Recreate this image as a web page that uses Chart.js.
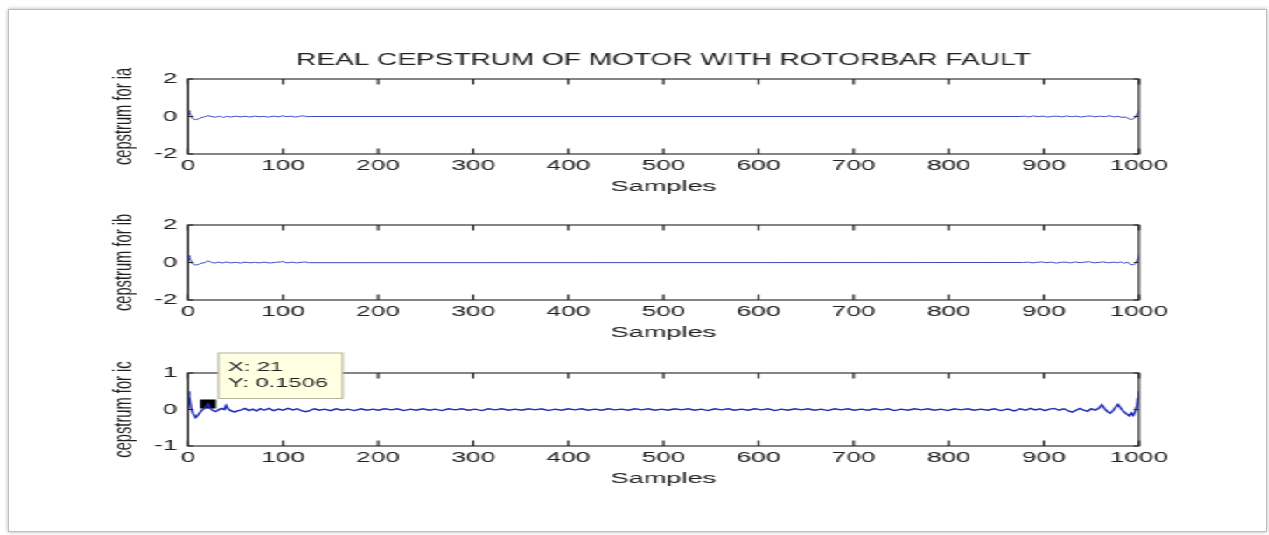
<!DOCTYPE html>
<html><head><meta charset="utf-8">
<script src="https://cdn.jsdelivr.net/npm/chart.js@4.4.0/dist/chart.umd.min.js"></script>
<style>
html,body{margin:0;padding:0;background:#fff;width:1269px;height:535px;overflow:hidden;}
#frame{position:absolute;left:8px;top:9px;width:1257px;height:521px;border:1px solid #bdbdbd;box-shadow:0 0 4px rgba(0,0,0,0.3);background:#fff;}
#stage{position:absolute;left:0;top:0;width:725px;height:535px;transform:scaleX(1.75);transform-origin:0 0;}
canvas{position:absolute;left:0;}
</style></head>
<body>
<div id="frame"></div>
<div id="stage">
<canvas id="c1" width="725" height="196" style="top:0px;width:725px;height:196px"></canvas>
<canvas id="c2" width="725" height="142" style="top:200px;width:725px;height:142px"></canvas>
<canvas id="c3" width="725" height="143" style="top:345px;width:725px;height:143px"></canvas>
</div>
<script>
// ---- data ----
const chartTitle = "REAL CEPSTRUM OF MOTOR WITH ROTORBAR FAULT";
const xAxisLabel = "Samples";
const yAxisLabels = ["cepstrum for ia", "cepstrum for ib", "cepstrum for ic"];
const xTicks = [0,100,200,300,400,500,600,700,800,900,1000];
const yTicksAB = [-2, 0, 2];
const yTicksC = [-1, 0, 1];

const iaPoints = [[0,0.32],[1,0.25],[3,0.05],[5,-0.12],[8,-0.17],[11,-0.12],[14,-0.06],[17,-0.02],[21,0.05],[25,-0.01],[29,-0.04],[33,0.02],[37,-0.05],[41,0.01],[45,-0.03],[50,0.02],[55,-0.02],[60,0.01],[65,-0.03],[70,0.02],[75,-0.01],[80,0.0],[85,-0.03],[90,0.02],[95,-0.02],[100,0.04],[104,-0.01],[108,0.02],[113,-0.03],[118,0.02],[122,0.03],[126,-0.01],[130,0],
[875,0],[880,0.02],[884,-0.02],[889,0.03],[894,-0.01],[899,0.02],[904,-0.03],[909,0.01],[914,0.02],[919,-0.02],[924,0.03],[929,-0.01],[934,0.02],[939,-0.03],[944,0.01],[949,0.03],[954,-0.02],[959,0.02],[964,-0.01],[969,0.04],[974,-0.02],[978,0.01],[982,-0.05],[986,-0.02],[989,-0.12],[992,-0.16],[995,-0.1],[997,0.02],[999,0.2],[1000,0.32]];

const ibPoints = [[0,0.38],[1,0.3],[3,0.08],[5,-0.08],[8,-0.14],[11,-0.1],[14,-0.04],[18,0.0],[21,0.1],[24,0.01],[28,-0.03],[32,0.02],[36,-0.03],[40,0.03],[45,-0.02],[50,0.01],[55,-0.03],[60,0.02],[65,-0.02],[70,0.01],[75,-0.02],[80,0.02],[86,-0.03],[92,0.01],[97,0.03],[100,0.05],[104,-0.02],[109,0.02],[114,-0.02],[119,0.01],[123,0.03],[127,-0.01],
[878,0.0],[883,0.02],[888,-0.02],[893,0.01],[898,0.03],[903,-0.01],[908,0.02],[913,-0.03],[918,0.01],[923,0.02],[928,-0.02],[933,0.03],[938,-0.01],[943,0.02],[948,0.04],[953,-0.02],[958,0.01],[963,0.03],[968,-0.02],[973,0.02],[977,-0.01],[981,0.03],[985,-0.04],[988,0.02],[991,-0.1],[994,-0.13],[996,-0.06],[998,0.08],[999,0.22],[1000,0.38]];

const icPoints = [[0,0.5],[1,0.36],[3,0.06],[5,-0.1],[8,-0.22],[11,-0.13],[14,-0.03],[17,0.03],[19,0.08],[21,0.1506],[23,0.04],[26,-0.03],[29,-0.06],[32,-0.01],[35,0.03],[38,0.0],[40,0.11],[42,0.02],[45,-0.03],[49,-0.07],[52,-0.04],[56,-0.01],[60,0.03],[64,-0.03],[68,0.01],[72,-0.04],[76,0.02],[80,-0.02],[85,0.03],[90,-0.03],[95,0.01],[100,-0.02],[105,0.03],[110,-0.01],[115,0.02],[120,-0.04],[124,-0.06],[128,-0.03],[133,0.02],[138,-0.02],[144,0.01],[150,-0.03],[156,0.02],[162,-0.02],[168,0.01],[175,-0.03],[182,0.02],[188,-0.02],[195,0.01],[200,-0.02],[207,0.02],[214,-0.01],[220,0.02],[227,-0.03],[234,0.01],[240,-0.02],[247,0.02],[254,-0.02],[260,0.01],[267,-0.03],[274,0.02],[281,-0.01],[288,0.02],[295,-0.02],[302,0.01],[309,-0.03],[316,0.02],[323,-0.01],[330,0.02],[337,-0.02],[344,0.01],[351,-0.02],[358,0.02],[365,-0.01],[372,0.02],[379,-0.03],[386,0.01],[393,-0.02],[400,0.02],[407,-0.01],[414,0.02],[421,-0.02],[428,0.01],[435,-0.02],[442,0.02],[449,-0.01],[456,0.01],[463,-0.02],[470,0.02],[477,-0.01],[484,0.02],[491,-0.02],[498,0.01],[505,-0.02],[512,0.02],[519,-0.01],[526,0.02],[533,-0.02],[540,0.01],[547,-0.03],[554,0.02],[561,-0.01],[568,0.02],[575,-0.02],[582,0.01],[589,-0.02],[596,0.02],[603,-0.01],[610,0.02],[617,-0.03],[624,0.01],[631,-0.02],[638,0.02],[645,-0.01],[652,0.02],[659,-0.02],[666,0.01],[673,-0.03],[680,0.02],[687,-0.01],[694,0.02],[701,-0.02],[708,0.01],[715,-0.02],[722,0.02],[729,-0.01],[736,0.02],[743,-0.03],[750,0.01],[757,-0.02],[764,0.02],[771,-0.01],[778,0.02],[785,-0.02],[792,0.01],[799,-0.03],[806,0.02],[813,-0.01],[820,0.02],[827,-0.02],[834,0.01],[841,-0.02],[848,0.02],[855,-0.03],[862,0.01],[869,-0.04],[875,0.02],[881,-0.02],[886,0.03],[891,-0.01],[896,0.02],[901,-0.03],[906,0.01],[911,0.03],[916,-0.02],[921,0.02],[926,-0.04],[930,-0.07],[934,-0.02],[938,0.03],[942,-0.02],[946,-0.05],[950,0.02],[954,-0.02],[958,0.04],[961,0.13],[964,0.02],[967,-0.06],[970,-0.1],[973,-0.02],[976,0.08],[978,0.14],[981,0.03],[984,-0.06],[987,-0.12],[990,-0.18],[992,-0.1],[994,-0.16],[996,-0.05],[998,0.12],[999,0.3],[1000,0.5]];

const tipX = 21;
const tipY = 0.1506;

// ---- rendering ----
const FONT = 'Liberation Sans, Arial, Helvetica, sans-serif';
const TXT = '#202020';
Chart.defaults.font.family = FONT;
Chart.defaults.color = TXT;

const boxTicks = {
  id: 'boxTicks',
  afterDatasetsDraw(chart) {
    const {ctx, chartArea: a, scales: {x, y}} = chart;
    ctx.save();
    ctx.strokeStyle = '#222';
    ctx.lineWidth = 1.2;
    ctx.beginPath();
    x.ticks.forEach(t => {
      const p = x.getPixelForValue(t.value);
      ctx.moveTo(p, a.bottom); ctx.lineTo(p, a.bottom - 5.5);
      ctx.moveTo(p, a.top); ctx.lineTo(p, a.top + 5.5);
    });
    y.ticks.forEach(t => {
      const p = y.getPixelForValue(t.value);
      ctx.moveTo(a.left, p); ctx.lineTo(a.left + 3, p);
      ctx.moveTo(a.right, p); ctx.lineTo(a.right - 3, p);
    });
    ctx.stroke();
    ctx.lineWidth = 1.1;
    ctx.strokeRect(a.left, a.top, a.right - a.left, a.bottom - a.top);
    ctx.restore();
  }
};

const dataTip = {
  id: 'dataTip',
  afterDatasetsDraw(chart) {
    const meta = chart.getDatasetMeta(1);
    if (!meta || !meta.data.length) return;
    const el = meta.data[0];
    const px = el.x, py = el.y;
    const ctx = chart.ctx;
    ctx.save();
    ctx.fillStyle = '#ffffe1';
    ctx.strokeStyle = '#b4b49c';
    ctx.lineWidth = 1;
    ctx.fillRect(px + 6, py - 51, 71, 45.5);
    ctx.strokeRect(px + 6, py - 51, 71, 45.5);
    ctx.fillStyle = TXT;
    ctx.font = '13.5px ' + FONT;
    ctx.textBaseline = 'middle';
    ctx.textAlign = 'left';
    ctx.fillText('X: ' + tipX, px + 11.5, py - 37);
    ctx.fillText('Y: ' + tipY, px + 11.5, py - 21);
    ctx.restore();
  }
};

function makeChart(id, points, color, lw, yTicks, yLabel, padTop, withTitle, extra) {
  const datasets = [{
    data: points.map(p => ({x: p[0], y: p[1]})),
    borderColor: color,
    borderWidth: lw,
    pointRadius: 0,
    tension: 0,
    fill: false
  }];
  const plugins = [boxTicks];
  if (extra) {
    datasets.push({
      data: [{x: tipX, y: tipY}],
      showLine: false,
      pointStyle: 'rect',
      pointRadius: 6.5,
      backgroundColor: '#000',
      borderColor: '#000',
      borderWidth: 0
    });
    plugins.push(dataTip);
  }
  return new Chart(document.getElementById(id), {
    type: 'line',
    data: {datasets},
    plugins,
    options: {
      responsive: false,
      animation: false,
      devicePixelRatio: 1,
      layout: {padding: {top: padTop, right: 74.14, bottom: 0, left: 0}},
      plugins: {
        legend: {display: false},
        tooltip: {enabled: false},
        title: {
          display: withTitle,
          text: chartTitle,
          fullSize: false,
          color: TXT,
          font: {size: 16, weight: 'normal', family: FONT, lineHeight: 1.2},
          padding: {top: 51.4, bottom: 8.4}
        }
      },
      scales: {
        x: {
          type: 'linear',
          min: xTicks[0], max: xTicks[xTicks.length - 1],
          grid: {display: false, drawTicks: false},
          border: {display: false},
          afterBuildTicks: s => { s.ticks = xTicks.map(v => ({value: v})); },
          afterFit: s => { s.height = 42; },
          ticks: {
            padding: 3, maxRotation: 0, autoSkip: false, color: TXT,
            font: {size: 15, family: FONT, lineHeight: 1.2},
            callback: v => String(v)
          },
          title: {
            display: true, text: xAxisLabel, color: TXT,
            font: {size: 15.5, family: FONT, lineHeight: 1.2},
            padding: 0
          }
        },
        y: {
          type: 'linear',
          min: yTicks[0], max: yTicks[yTicks.length - 1],
          grid: {display: false, drawTicks: false},
          border: {display: false},
          afterBuildTicks: s => { s.ticks = yTicks.map(v => ({value: v})); },
          afterFit: s => { s.width = 107.43; },
          ticks: {
            padding: 6, color: TXT,
            font: {size: 15, family: FONT, lineHeight: 1.2},
            callback: v => String(v)
          },
          title: {
            display: true, text: yLabel, color: TXT,
            font: {size: 14.7, family: FONT, lineHeight: 1.2},
            padding: {top: 62.6, bottom: 0}
          }
        }
      }
    }
  });
}

makeChart('c1', iaPoints, '#3d4bc4', 1, yTicksAB, yAxisLabels[0], 0, true, false);
makeChart('c2', ibPoints, '#3d4bc4', 1, yTicksAB, yAxisLabels[1], 25, false, false);
makeChart('c3', icPoints, '#1f2cb8', 1.4, yTicksC, yAxisLabels[2], 28, false, true);
</script>
</body></html>
